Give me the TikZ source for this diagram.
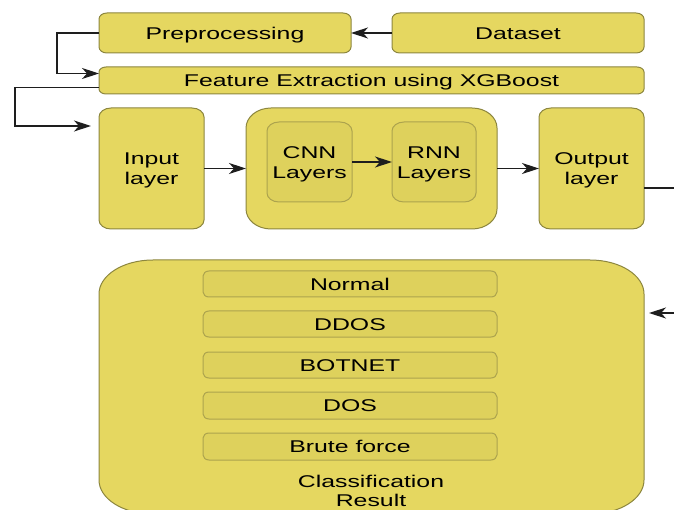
\documentclass[tikz,border=0pt]{standalone}
\usepackage{fontspec}
\setmainfont{Liberation Sans}[FakeStretch=1.46]
\usetikzlibrary{arrows.meta}
\definecolor{yfill}{RGB}{229,215,96}
\definecolor{yline}{RGB}{140,134,62}
\definecolor{ifill}{RGB}{222,209,92}
\definecolor{iline}{RGB}{172,163,78}
\definecolor{conncol}{RGB}{30,30,30}
% #1 name, #2 kind, #3 x1, #4 y1, #5 x2, #6 y2, #7 rx, #8 ry, #9 text
\newcommand\yellowbox[9]{%
  \path[#2 path] ({#3+#7},#4) -- ({#5-#7},#4)
    arc[start angle=-90,end angle=0,x radius=#7,y radius=#8]
    -- (#5,{#6-#8})
    arc[start angle=0,end angle=90,x radius=#7,y radius=#8]
    -- ({#3+#7},#6)
    arc[start angle=90,end angle=180,x radius=#7,y radius=#8]
    -- (#3,{#4+#8})
    arc[start angle=180,end angle=270,x radius=#7,y radius=#8]
    -- cycle;
  \node[boxtext, #2 text, minimum width={(#5-#3)*1pt}, minimum height={(#6-#4)*1pt}]
    (#1) at ({(#3+#5)/2},{(#4+#6)/2}) {#9};
}
\begin{document}
\begin{tikzpicture}[x=1pt,y=-1pt,
  outerbox/.style={fill=yfill,draw=yline,line width=1pt},
  innerbox/.style={fill=ifill,draw=iline,line width=1pt},
  boxtext/.style={inner sep=0pt,outer sep=0pt,align=center,
    font=\fontsize{17}{20}\selectfont,text=black},
  oneline/.style={text height=12.3pt,text depth=0pt},
  twoline/.style={text height=36pt},
  outer1 path/.style={outerbox}, outer1 text/.style={oneline},
  outer2 path/.style={outerbox}, outer2 text/.style={twoline},
  inner1 path/.style={innerbox}, inner1 text/.style={oneline},
  inner2 path/.style={innerbox}, inner2 text/.style={twoline},
  conn/.style={draw=conncol,line width=1.3pt,
    -{Stealth[length=17pt,width=11pt,inset=5pt]}},
  plain/.style={draw=conncol,line width=1.3pt}]
\useasboundingbox (0,0) rectangle (674,510);

\yellowbox{pre}{outer1}{99}{13}{351}{53}{8}{6}{Preprocessing}
\yellowbox{data}{outer1}{392}{13}{644}{53}{8}{6}{Dataset}
\yellowbox{feat}{outer1}{99}{67}{644}{94}{7}{5}{Feature Extraction using XGBoost}
\yellowbox{inp}{outer2}{99}{108}{204}{229}{12}{9}{Input\\layer}
\yellowbox{mid}{outer1}{246}{108}{497}{229}{25}{20}{}
\yellowbox{cnn}{inner2}{267}{122}{352}{202}{12}{9}{CNN\\Layers}
\yellowbox{rnn}{inner2}{392}{122}{476}{202}{12}{9}{RNN\\Layers}
\yellowbox{out}{outer2}{539}{108}{644}{229}{12}{9}{Output\\layer}
\yellowbox{cls}{outer1}{99}{260}{644}{514}{54}{34}{}
\yellowbox{c1}{inner1}{203}{271}{497}{297}{6}{5}{Normal}
\yellowbox{c2}{inner1}{203}{311}{497}{337}{6}{5}{DDOS}
\yellowbox{c3}{inner1}{203}{352}{497}{378}{6}{5}{BOTNET}
\yellowbox{c4}{inner1}{203}{392}{497}{419}{6}{5}{DOS}
\yellowbox{c5}{inner1}{203}{433}{497}{460}{6}{5}{Brute force}
\node[boxtext,font=\fontsize{17}{19}\selectfont] (clslabel) at (371,491) {Classification\\Result};

\coordinate (inpin) at (99,126);
\coordinate (exitR) at (674,188);
\coordinate (entR) at (674,313);

\draw[conn] (data.west) -- (pre.east);
\draw[conn] (pre.west) -- ++(-42,0) |- ([yshift=7pt]feat.west);
\draw[conn, shorten >=8pt] ([yshift=-7pt]feat.west) -- ++(-84,0) |- (inpin);
\draw[conn] (inp.east) -- (mid.west);
\draw[conn] (cnn.east) -- (rnn.west);
\draw[conn] (mid.east) -- (out.west);
\draw[plain] (out.east |- exitR) -- (exitR);
\draw[conn, shorten >=5pt] (entR) -- (entR -| cls.east);
\end{tikzpicture}
\end{document}
